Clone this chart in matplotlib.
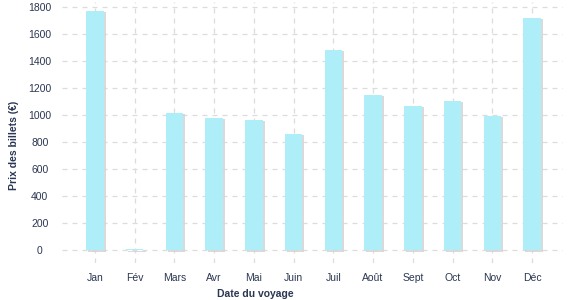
import matplotlib
matplotlib.use("Agg")
import matplotlib.pyplot as plt
import matplotlib.patheffects as pe
import numpy as np

plt.rcParams["font.family"] = ["Liberation Sans", "DejaVu Sans"]

mois = ["Jan", "Fév", "Mars", "Avr", "Mai", "Juin", "Juil", "Août",
        "Sept", "Oct", "Nov", "Déc"]
prix = [1770, 5, 1015, 980, 963, 860, 1480, 1148, 1067, 1104, 995, 1718]

C_BAR = "#aeeef8"
C_TXT = "#2a3652"
C_GRID = "#dcdcdc"

fig = plt.figure(figsize=(5.77, 3.0), dpi=100)
ax = fig.add_axes([62 / 577, 37 / 300, 501 / 577, 261 / 300])

x = np.arange(len(mois))
bars = ax.bar(x, prix, width=0.44, color=C_BAR, zorder=3)
for b in bars:
    b.set_path_effects([pe.SimplePatchShadow(offset=(1.5, -1), shadow_rgbFace="#d6d6d6", alpha=0.9),
                        pe.Normal()])

ax.set_xlim(-0.83, len(mois) - 1 + 0.78)
ax.set_ylim(-95, 1835)
ax.set_yticks(np.arange(0, 1801, 200))
ax.set_xticks(x)
ax.set_xticklabels(mois)

ax.grid(True, color=C_GRID, linestyle=(0, (4, 4)), linewidth=0.9, zorder=0)
for s in ax.spines.values():
    s.set_visible(False)
ax.tick_params(length=0, labelsize=7.5, colors=C_TXT)
ax.tick_params(axis="x", pad=7)
ax.tick_params(axis="y", pad=16)
for lab in ax.get_yticklabels():
    lab.set_horizontalalignment("center")

ax.set_xlabel("Date du voyage", fontsize=7.5, fontweight="bold", color=C_TXT)
ax.set_ylabel("Prix des billets (€)", fontsize=7.5, fontweight="bold", color=C_TXT)
ax.xaxis.set_label_coords(0.385, -0.1)
ax.yaxis.set_label_coords(-0.085, 0.45)

fig.savefig("out.png", dpi=100)
